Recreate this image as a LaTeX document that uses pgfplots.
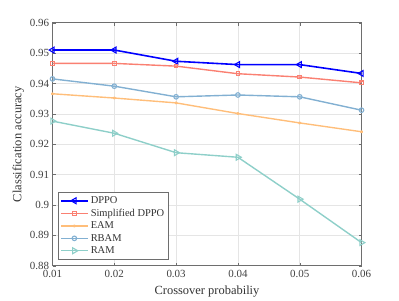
\documentclass[border=0pt]{standalone}
\usepackage{pgfplots}
\pgfplotsset{compat=1.18}
\usepackage{fontspec}
\setmainfont{Liberation Serif}
\definecolor{cdppo}{RGB}{0,0,255}
\definecolor{csimp}{RGB}{250,128,114}
\definecolor{ceam}{RGB}{255,190,122}
\definecolor{crbam}{RGB}{130,176,210}
\definecolor{cram}{RGB}{142,207,201}
\definecolor{axgray}{RGB}{110,110,110}
\begin{document}
\begin{tikzpicture}[x=1bp,y=1bp]
\path (0,0) rectangle (399,299);
\begin{axis}[
  at={(52.5bp,33.3bp)}, anchor=south west,
  scale only axis, width=309bp, height=243bp,
  xmin=0.01, xmax=0.06, ymin=0.88, ymax=0.96,
  scaled x ticks=false, scaled y ticks=false,
  /pgf/number format/assume math mode=true,
  xtick={0.01,0.02,0.03,0.04,0.05,0.06},
  ytick={0.88,0.89,0.9,0.91,0.92,0.93,0.94,0.95,0.96},
  xticklabels={0.01,0.02,0.03,0.04,0.05,0.06},
  yticklabels={0.88,0.89,0.9,0.91,0.92,0.93,0.94,0.95,0.96},
  grid=major, major grid style={gray!20, line width=0.5pt},
  axis line style={axgray, line width=0.6pt},
  tick style={axgray}, tick align=inside, major tick length=3bp,
  ticklabel style={font=\fontsize{11}{12}\selectfont, text=black!75},
  xticklabel style={yshift=-1.5pt},
  xlabel={Crossover probabiliy}, ylabel={Classification accuracy},
  xlabel style={font=\fontsize{12.5}{14}\selectfont, text=black!80, yshift=-0.5pt},
  ylabel style={font=\fontsize{12.5}{14}\selectfont, text=black!80, yshift=-1pt},
  legend style={at={(0.018,0.027)}, anchor=south west, font=\fontsize{10.5}{12}\selectfont,
    draw=axgray, row sep=0pt, inner sep=2pt, text=black!80},
  legend cell align=left,
  legend image code/.code={\draw[#1] (0cm,0cm) -- (0.95cm,0cm); \draw[#1, only marks] plot coordinates {(0.47cm,0cm)};},
]
\addplot[cdppo, line width=1.6pt, mark=triangle, mark options={rotate=90, line width=1.1pt, scale=1.7}]
coordinates {(0.01,0.9510) (0.02,0.9510) (0.03,0.9473) (0.04,0.9462) (0.05,0.9462) (0.06,0.9433)};
\addlegendentry{DPPO}
\addplot[csimp, line width=1.4pt, mark=square, mark options={line width=1.1pt, scale=0.9}]
coordinates {(0.01,0.9466) (0.02,0.9466) (0.03,0.9457) (0.04,0.9432) (0.05,0.9421) (0.06,0.9402)};
\addlegendentry{Simplified DPPO}
\addplot[ceam, line width=1.4pt, mark=asterisk, mark options={line width=1pt, scale=0.7}]
coordinates {(0.01,0.9366) (0.02,0.9352) (0.03,0.9336) (0.04,0.9301) (0.05,0.9270) (0.06,0.9241)};
\addlegendentry{EAM}
\addplot[crbam, line width=1.4pt, mark=o, mark options={line width=1.1pt, scale=1.15}]
coordinates {(0.01,0.9415) (0.02,0.9391) (0.03,0.9356) (0.04,0.9362) (0.05,0.9356) (0.06,0.9312)};
\addlegendentry{RBAM}
\addplot[cram, line width=1.4pt, mark=triangle, mark options={rotate=-90, line width=1.1pt, scale=1.7}]
coordinates {(0.01,0.9276) (0.02,0.9236) (0.03,0.9172) (0.04,0.9157) (0.05,0.9019) (0.06,0.8876)};
\addlegendentry{RAM}
\end{axis}
\end{tikzpicture}
\end{document}
